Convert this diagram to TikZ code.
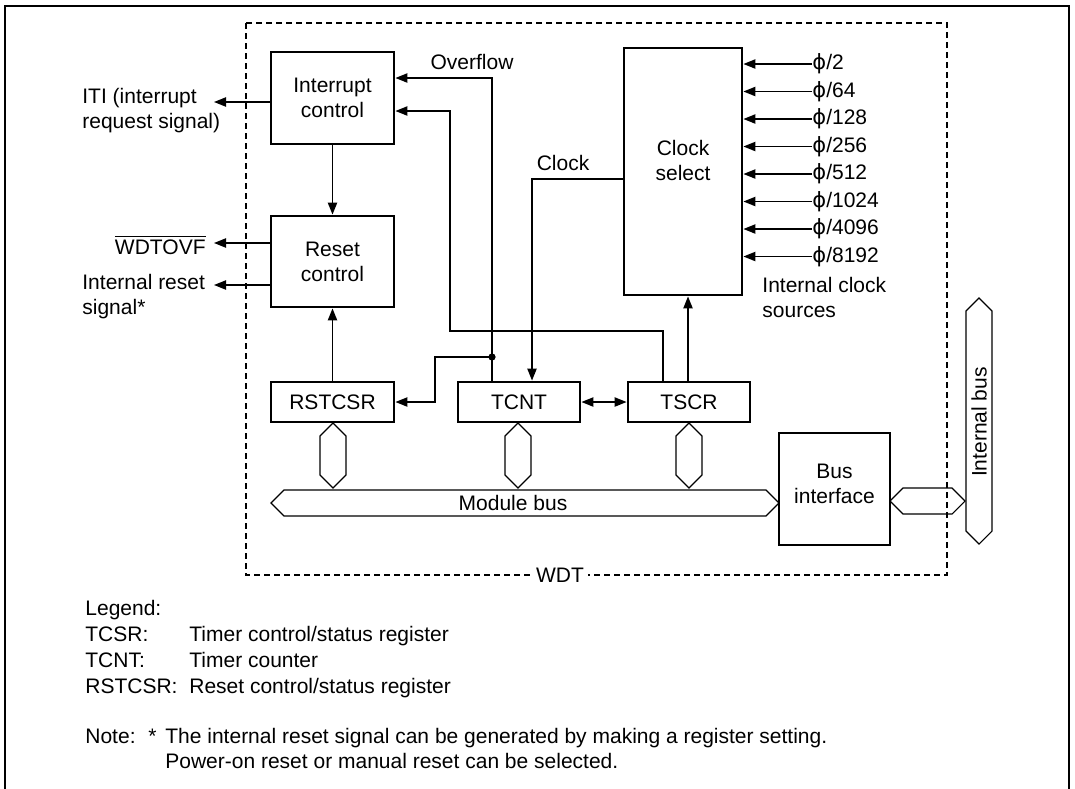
\documentclass[tikz,border=0pt]{standalone}
\usepackage{fontspec}
\setmainfont{Liberation Sans}
\newfontfamily\phifont{DejaVu Sans}
\usetikzlibrary{arrows.meta}
\tikzset{
  blk/.style={draw, line width=1.4pt, inner sep=0pt, align=center},
  conn/.style={line width=0.8pt},
  arr/.style={conn, -{Triangle[length=6pt,width=4.6pt]}},
  darr/.style={conn, {Triangle[length=6pt,width=4.6pt]}-{Triangle[length=6pt,width=4.6pt]}},
  hexbus/.style={draw, line width=0.55pt},
  txt/.style={inner sep=0pt, align=left},
  wdtbox/.style={draw, line width=0.6pt, dash pattern=on 3pt off 2pt},
}
\newcommand\myvhex[3]{% x, ytop, ybottom
  \draw[hexbus] (#1,#2) -- (#1+13,#2+13) -- (#1+13,#3-13) -- (#1,#3) -- (#1-13,#3-13) -- (#1-13,#2+13) -- cycle;}
\newcommand\myphi{{\phifont\char"03D5}}
\begin{document}
\begin{tikzpicture}[x=0.5pt,y=-0.5pt,font=\fontsize{10.5}{12.5}\selectfont]
\useasboundingbox (0,0) rectangle (1075,788);
% outer frame
\draw[line width=1.2pt] (5,790) -- (5,6) -- (1069,6) -- (1069,790);
% WDT dashed box
\draw[wdtbox] (246,23) rectangle (947,575);
\node[fill=white, inner sep=2pt] (wdt) at (560,575) {WDT};

% blocks
\node[blk, minimum width=61.5pt, minimum height=46pt] (ic) at (332.5,98) {Interrupt\\control};
\node[blk, minimum width=61.5pt, minimum height=45.5pt] (rc) at (332.5,261.5) {Reset\\control};
\node[blk, minimum width=61.5pt, minimum height=20pt] (rst) at (332.5,402) {RSTCSR};
\node[blk, minimum width=61pt, minimum height=20pt] (tcnt) at (519,402) {TCNT};
\node[blk, minimum width=61pt, minimum height=20pt] (tscr) at (689,402) {TSCR};
\node[blk, minimum width=59pt, minimum height=123.5pt] (cs) at (683,171.5) {};
\node[txt, align=center] (cstxt) at (683,160) {Clock\\select};
\node[blk, minimum width=55.5pt, minimum height=56pt] (bi) at (834.5,489) {};
\node[txt, align=center] (bitxt) at (834.5,484) {Bus\\interface};

% left outputs
\node[txt, anchor=west] (iti) at (82,111) {ITI (interrupt\\request signal)};
\coordinate (itiend) at (214,102);
\draw[arr] (ic.west |- itiend) -- (itiend);
\node[txt, anchor=east] (wdtovf) at (206,245) {$\overline{\mbox{WDTOVF}}$};
\coordinate (ovfend) at (214,243);
\draw[arr] (rc.west |- ovfend) -- (ovfend);
\node[txt, anchor=west] (irs) at (82,297) {Internal reset\\signal*};
\coordinate (irsend) at (214,285);
\draw[arr] (rc.west |- irsend) -- (irsend);

% internal connections
\draw[arr] (ic) -- (rc);
\draw[arr] (rst) -- (rc);
\coordinate (ov) at (492,78);
\draw[arr] (tcnt.north -| ov) -- (ov) -- (ic.east |- ov);
\node[txt] (ovl) at (472,62) {Overflow};
\coordinate (jn) at (492,357);
\coordinate (jk) at (435,357);
\fill (jn) circle[radius=1.8pt];
\draw[arr] (jn) -- (jk) |- (rst.east);
\coordinate (t1) at (663,331);
\coordinate (t2) at (450,111);
\draw[arr] (tscr.north -| t1) -- (t1) -| (t2) -- (ic.east |- t2);
\coordinate (ck) at (532,179);
\draw[arr] (cs.west |- ck) -- (ck) -- (tcnt.north -| ck);
\node[txt] (ckl) at (563,163) {Clock};
\coordinate (ts) at (688,380);
\draw[arr] (tscr.north -| ts) -- (cs.south -| ts);
\draw[darr] (tcnt) -- (tscr);

% clock inputs
\foreach \i/\lab in {0/2,1/64,2/128,3/256,4/512,5/1024,6/4096,7/8192}{
  \node[anchor=west, inner sep=0pt] (p\i) at (812,64+27.5*\i) {\myphi/\lab};
  \draw[arr] (p\i.west) -- (cs.east |- p\i.west);
}
\node[txt, anchor=north west] (ics) at (762,277) {Internal clock\\sources};

% buses
\myvhex{333}{423}{488}
\myvhex{518}{423}{488}
\myvhex{689}{423}{488}
\draw[hexbus] (271,503) -- (284,490) -- (766,490) -- (779,503) -- (766,516) -- (284,516) -- cycle;
\node[txt] (mb) at (513,503) {Module bus};
\draw[hexbus] (890,501) -- (903,488) -- (952,488) -- (965,501) -- (952,514) -- (903,514) -- cycle;
\draw[hexbus] (979,298) -- (992,311) -- (992,531) -- (979,544) -- (966,531) -- (966,311) -- cycle;
\node[txt, rotate=90] (ib) at (979,422) {Internal bus};

% legend
\node[txt, anchor=base west] (lg) at (85,615) {Legend:};
\node[txt, anchor=base west] (lg1) at (85,641) {TCSR:};
\node[txt, anchor=base west] (lg1d) at (189,641) {Timer control/status register};
\node[txt, anchor=base west] (lg2) at (85,667) {TCNT:};
\node[txt, anchor=base west] (lg2d) at (189,667) {Timer counter};
\node[txt, anchor=base west] (lg3) at (85,693) {RSTCSR:};
\node[txt, anchor=base west] (lg3d) at (189,693) {Reset control/status register};
\node[txt, anchor=base west] (nt) at (85,743) {Note:};
\node[txt, anchor=base west] (nts) at (148,743) {*};
\node[txt, anchor=base west] (nt1) at (165,743) {The internal reset signal can be generated by making a register setting.};
\node[txt, anchor=base west] (nt2) at (165,768) {Power-on reset or manual reset can be selected.};
\end{tikzpicture}
\end{document}
